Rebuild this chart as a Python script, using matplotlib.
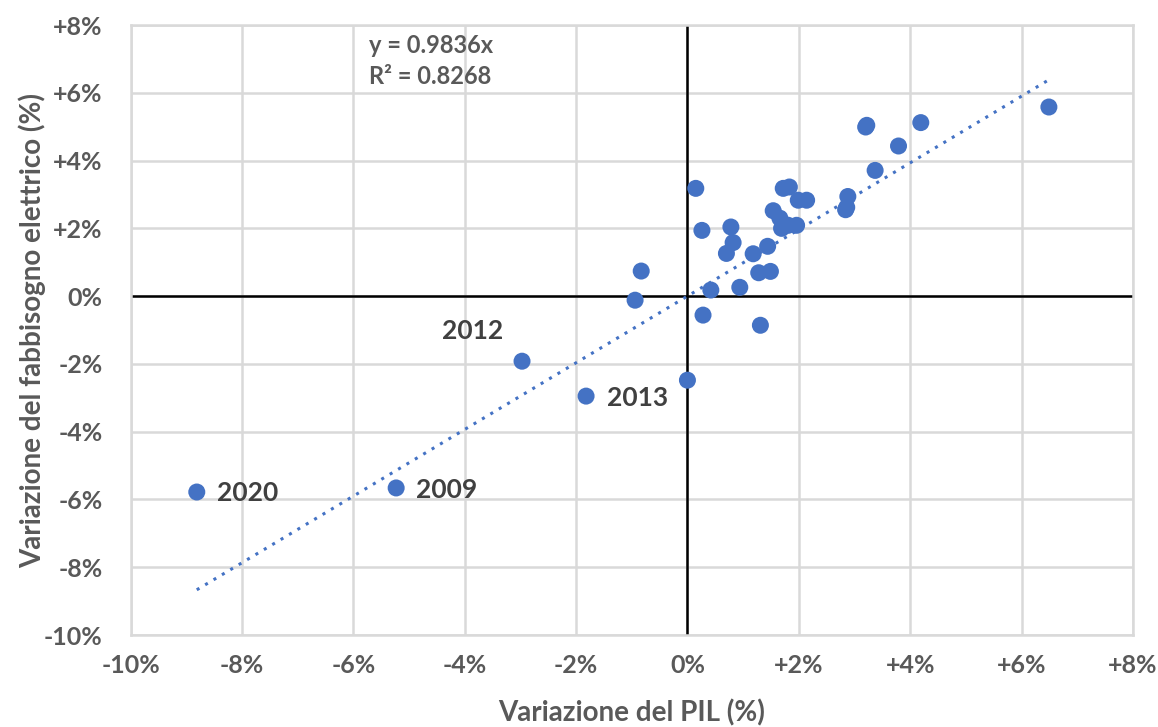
import numpy as np
import matplotlib.pyplot as plt
from matplotlib.ticker import FuncFormatter

# GDP change (%) vs electricity demand change (%)
pil = [6.49, 3.20, 3.22, 4.19, 3.79, 3.37, 2.88, 2.84, 2.86, 0.15,
       1.72, 1.83, 1.99, 2.14, 1.54, 1.66, 1.69, 1.96, 1.81, 0.26,
       0.78, 0.82, 0.70, 1.18, 1.44, 1.28, 1.49, 0.94, 0.42, -0.83,
       -0.94, 0.28, 1.31, -2.97, -1.82, 0.0, -5.23, -8.81]
fabbisogno = [5.58, 4.99, 5.04, 5.12, 4.43, 3.71, 2.94, 2.55, 2.62, 3.18,
              3.18, 3.22, 2.83, 2.83, 2.52, 2.30, 2.00, 2.09, 2.09, 1.94,
              2.04, 1.58, 1.26, 1.25, 1.47, 0.69, 0.73, 0.26, 0.18, 0.74,
              -0.12, -0.56, -0.86, -1.92, -2.95, -2.48, -5.66, -5.78]

slope = 0.9836
r2 = 0.8268

years = ["2012", "2013", "2009", "2020"]
year_x = [-3.85, -0.89, -4.32, -7.89]
year_y = [-1.03, -3.0, -5.72, -5.81]

ticks = [-10, -8, -6, -4, -2, 0, 2, 4, 6, 8]

blue = "#4472C4"
grey = "#595959"
plt.rcParams['font.family'] = ['Lato', 'DejaVu Sans']

fig = plt.figure(figsize=(11.58, 7.27), dpi=100)
ax = fig.add_axes([0.1127, 0.1265, 0.8657, 0.8391])

ax.set_xlim(-10, 8)
ax.set_ylim(-10, 8)
ax.set_xticks(ticks)
ax.set_yticks(ticks)
fmt = FuncFormatter(lambda v, p: "0%" if v == 0 else f"{v:+.0f}%")
ax.xaxis.set_major_formatter(fmt)
ax.yaxis.set_major_formatter(fmt)
ax.grid(True, color="#D9D9D9", linewidth=1.8)
ax.set_axisbelow(True)
for s in ax.spines.values():
    s.set_color("#D9D9D9")
    s.set_linewidth(1.8)
ax.tick_params(length=0, labelsize=18, labelcolor=grey)
ax.tick_params(axis="x", pad=14)
ax.tick_params(axis="y", pad=20)
for lab in ax.get_xticklabels() + ax.get_yticklabels():
    lab.set_fontweight("bold")

ax.axhline(0, color="black", linewidth=1.8, zorder=1)
ax.axvline(0, color="black", linewidth=1.8, zorder=1)

# trend line through the origin
xl = np.array([min(pil), max(pil)])
ax.plot(xl, slope * xl, color=blue, linestyle=(0, (1, 2.2)), linewidth=2.2, zorder=2)

ax.scatter(pil, fabbisogno, s=150, color=blue, edgecolors="none", zorder=3)

for t, x, y in zip(years, year_x, year_y):
    ax.text(x, y, t, fontsize=19, fontweight="bold", color="#404040",
            ha="center", va="center")

ax.text(-5.72, 7.4, f"y = {slope}x", fontsize=17, fontweight="bold", color=grey,
        va="center")
ax.text(-5.72, 6.48, f"R² = {r2}", fontsize=17, fontweight="bold", color=grey,
        va="center")

fig.text(0.545, 0.02, "Variazione del PIL (%)", fontsize=20, fontweight="bold",
         color=grey, ha="center", va="center")
fig.text(0.028, 0.546, "Variazione del fabbisogno elettrico (%)", fontsize=20,
         fontweight="bold", color=grey, ha="center", va="center", rotation=90)

fig.savefig("out.png", dpi=100)
